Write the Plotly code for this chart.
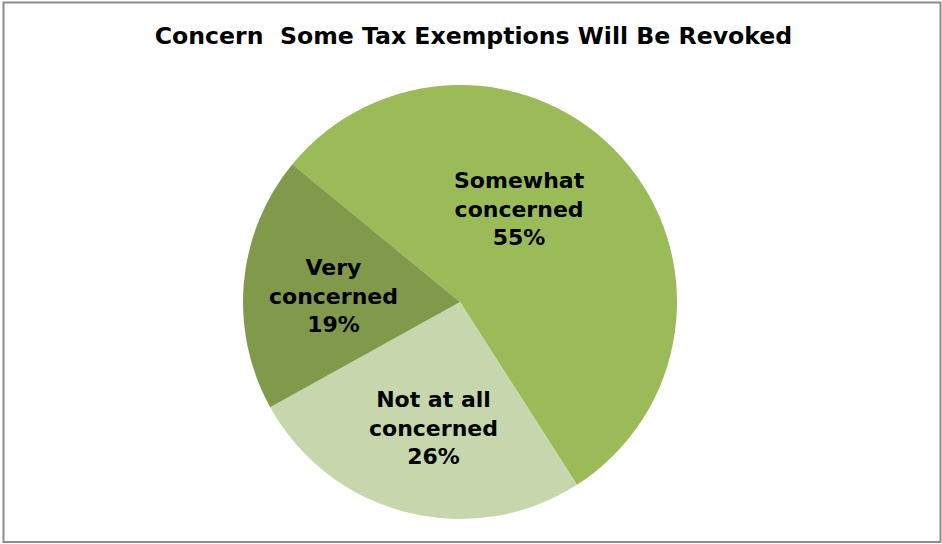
import plotly.graph_objects as go

categories = ["Somewhat<br>concerned", "Not at all<br>concerned", "Very<br>concerned"]
values = [55, 26, 19]
colors = ["#9BBB59", "#C6D7AD", "#80994B"]
title = "Concern  Some Tax Exemptions Will Be Revoked"

# label anchor positions in pixels (layout only)
label_px = [(519.5, 209), (433, 427.5), (333.5, 295.5)]

W, H = 942, 544
cx, cy, r = 460, 302, 217
FONT = "DejaVu Sans, Verdana, sans-serif"

fig = go.Figure(go.Pie(
    labels=categories,
    values=values,
    sort=False,
    direction="clockwise",
    rotation=-50.6,
    marker=dict(colors=colors, line=dict(width=0)),
    textinfo="none",
    domain=dict(x=[(cx - r) / W, (cx + r) / W], y=[(H - cy - r) / H, (H - cy + r) / H]),
    showlegend=False,
    hoverinfo="label+percent",
))

annotations = []
for cat, val, (px, py) in zip(categories, values, label_px):
    annotations.append(dict(
        text="<b>%s<br>%d%%</b>" % (cat, val),
        x=px / W, y=1 - py / H, xref="paper", yref="paper",
        xanchor="center", yanchor="middle", showarrow=False,
        font=dict(family=FONT, size=22, color="black"),
    ))

fig.update_layout(
    width=W, height=H,
    margin=dict(l=0, r=0, t=0, b=0),
    paper_bgcolor="white",
    title=dict(text="<b>" + title + "</b>", x=473.5 / W, xanchor="center", y=1 - 36 / H, yanchor="middle",
               font=dict(family=FONT, size=23.6, color="black")),
    annotations=annotations,
    shapes=[dict(type="rect", xref="paper", yref="paper",
                 x0=3.5 / W, x1=940.5 / W, y0=1 - 542 / H, y1=1 - 2.5 / H,
                 line=dict(color="#8C8C8C", width=2))],
)

fig.write_html("out.html", config={"displayModeBar": False},
               post_script="document.body.style.margin='0';document.body.style.overflow='hidden';")
